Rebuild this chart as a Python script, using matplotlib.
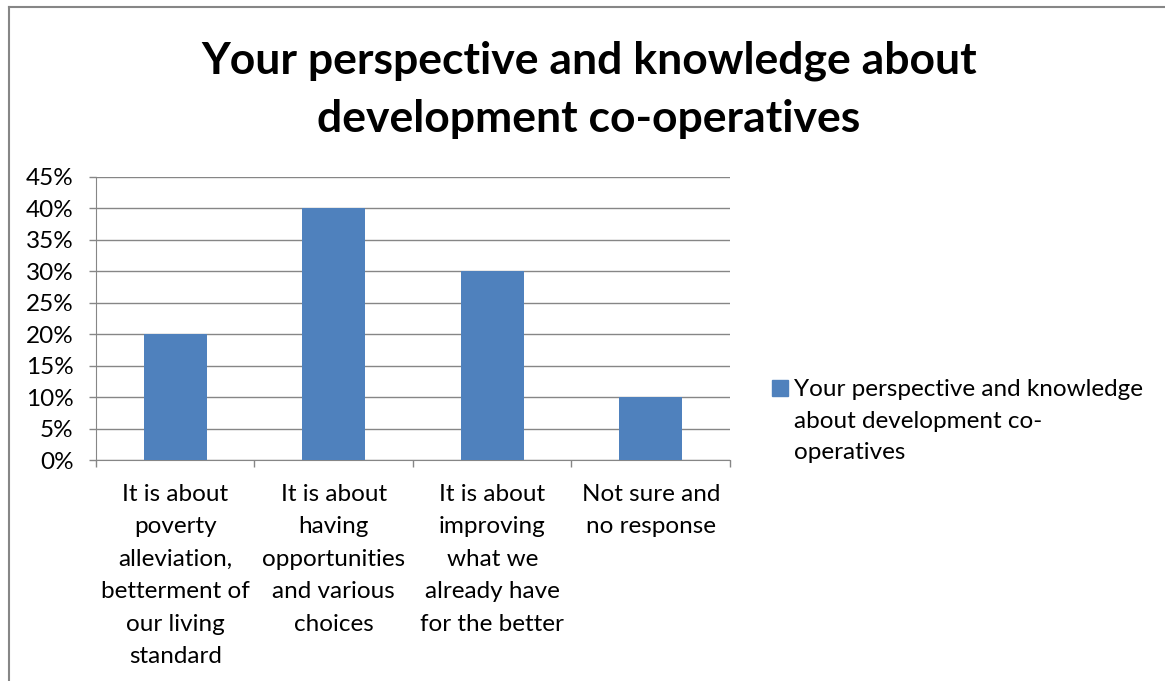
import numpy as np
import matplotlib.pyplot as plt
from matplotlib.ticker import PercentFormatter
from matplotlib.patches import Rectangle

plt.rcParams['font.family'] = ['Lato', 'DejaVu Sans']

# data
categories = ['It is about\npoverty\nalleviation,\nbetterment of\nour living\nstandard',
              'It is about\nhaving\nopportunities\nand various\nchoices',
              'It is about\nimproving\nwhat we\nalready have\nfor the better',
              'Not sure and\nno response']
values = [20, 40, 30, 10]
series_name = 'Your perspective and knowledge\nabout development co-\noperatives'
title = 'Your perspective and knowledge about\ndevelopment co-operatives'

bar_color = '#4F81BD'
grid_color = '#868686'
fs = 17.5

fig = plt.figure(figsize=(11.65, 6.81), dpi=100)
ax = fig.add_axes([0.0824, 0.3245, 0.5442, 0.4156])

x = np.arange(len(categories))
ax.bar(x, values, width=0.4, color=bar_color, zorder=3)

ax.set_xlim(-0.5, len(categories) - 0.5)
ax.set_ylim(0, 45)
ax.set_yticks(np.arange(0, 46, 5))
ax.yaxis.set_major_formatter(PercentFormatter(decimals=0))
ax.grid(axis='y', color=grid_color, linewidth=1, zorder=0)

ax.set_xticks(np.arange(-0.5, len(categories), 1.0))
ax.set_xticklabels([])
ax.set_xticks(x, minor=True)
ax.set_xticklabels(categories, minor=True, fontsize=fs, linespacing=1.68, va='top')
ax.tick_params(axis='x', which='minor', length=0, pad=17)
ax.tick_params(axis='x', which='major', length=5, color=grid_color, width=1)
ax.tick_params(axis='y', length=5, color=grid_color, width=1, labelsize=fs, pad=11)

for s in ['top', 'right']:
    ax.spines[s].set_visible(False)
for s in ['left', 'bottom']:
    ax.spines[s].set_color(grid_color)

fig.text(0.5056, 0.868, title, ha='center', va='center', fontsize=32,
         fontweight='bold', linespacing=1.55)

# legend: square aligned with first line of the wrapped label
fig.add_artist(Rectangle((772 / 1165, 1 - 396 / 681), 16 / 1165, 16 / 681,
                         color=bar_color, transform=fig.transFigure))
fig.text(794 / 1165, 1 - 421 / 681, series_name, ha='left', va='center',
         fontsize=fs, linespacing=1.62)

# chart border (left and top only visible)
fig.add_artist(plt.Line2D([0.0077, 0.0077], [0, 0.99], color=grid_color, lw=1.5,
                          transform=fig.transFigure))
fig.add_artist(plt.Line2D([0.0077, 1], [0.99, 0.99], color=grid_color, lw=1.5,
                          transform=fig.transFigure))

fig.savefig('out.png', dpi=100)
